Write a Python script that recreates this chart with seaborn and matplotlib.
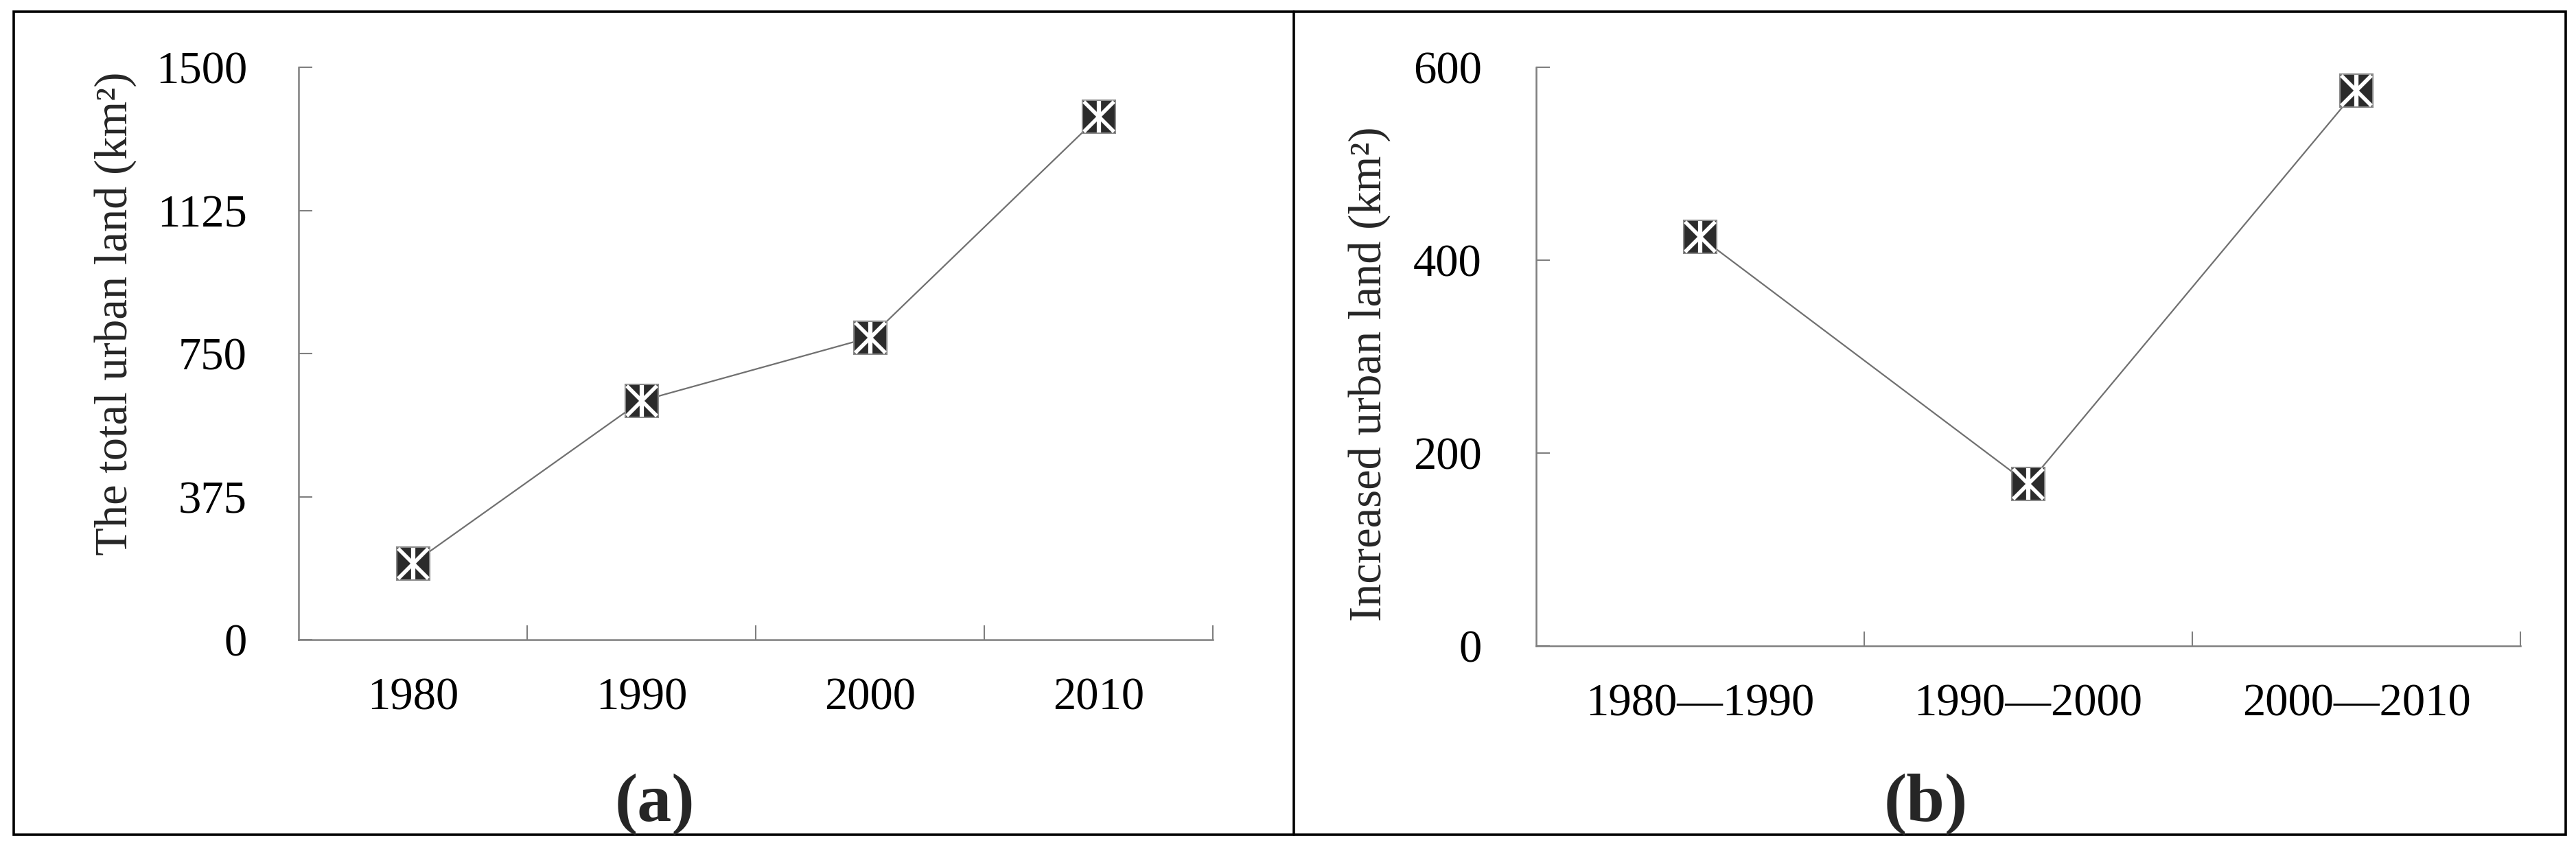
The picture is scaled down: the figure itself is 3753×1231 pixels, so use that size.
import matplotlib
matplotlib.use("Agg")
import matplotlib.pyplot as plt
import seaborn as sns
import pandas as pd
from matplotlib.patches import Rectangle
from matplotlib.lines import Line2D

# ---- data ----
years = ["1980", "1990", "2000", "2010"]
total_urban = [200, 626, 792, 1370]
periods = ["1980\u20141990", "1990\u20142000", "2000\u20142010"]
increased_urban = [424, 168, 576]
yticks_a = [0, 375, 750, 1125, 1500]
yticks_b = [0, 200, 400, 600]
ylabel_a = "The total urban land (km\u00b2)"
ylabel_b = "Increased urban land (km\u00b2)"
panel_labels = ["(a)", "(b)"]

sns.set_theme(style="ticks")
plt.rcParams["font.family"] = ["Liberation Serif", "DejaVu Serif"]

W, H = 3753, 1231
DPI = 100
fig = plt.figure(figsize=(W / DPI, H / DPI), dpi=DPI)

def fx(px):
    return px / W

def fy(py):
    return 1 - py / H

FS = 48
SPINE = "#7f7f7f"

def panel(rect, cats, vals, yticks, ylabel, label_xy, ypad):
    ax = fig.add_axes(rect)
    df = pd.DataFrame({"cat": cats, "val": vals})
    sns.lineplot(data=df, x="cat", y="val", ax=ax, sort=False,
                 color="#707070", linewidth=1.6,
                 marker="s", markersize=35, markerfacecolor="#2b2b2b",
                 markeredgecolor="#8a8a8a", markeredgewidth=1.5)
    # white asterisk overlay on the markers
    ax.plot(df["cat"], df["val"], linestyle="none", marker="x", markersize=31,
            markeredgecolor="white", markeredgewidth=4.0, zorder=5)
    ax.plot(df["cat"], df["val"], linestyle="none", marker="|", markersize=33,
            markeredgecolor="white", markeredgewidth=4.5, zorder=5)
    n = len(cats)
    ax.set_xlim(-0.5, n - 0.5)
    ax.set_ylim(yticks[0], yticks[-1])
    ax.set_yticks(yticks)
    ax.set_yticklabels([str(t) for t in yticks])
    ax.set_xticks(range(n))
    ax.set_xticklabels(cats)
    ax.set_xticks([i + 0.5 for i in range(n)], minor=True)
    ax.tick_params(axis="x", which="major", length=0, pad=39, labelsize=FS,
                   labelcolor="black")
    ax.tick_params(axis="x", which="minor", direction="in", length=15,
                   width=1.5, color=SPINE)
    ax.tick_params(axis="y", which="major", direction="in", length=14.5,
                   width=1.5, color=SPINE, pad=ypad, labelsize=FS,
                   labelcolor="black")
    for s in ["top", "right"]:
        ax.spines[s].set_visible(False)
    for s in ["left", "bottom"]:
        ax.spines[s].set_color(SPINE)
        ax.spines[s].set_linewidth(1.8)
    ax.set_xlabel("")
    ax.set_ylabel(ylabel, fontsize=FS, va="center")
    ax.yaxis.set_label_coords(*label_xy)
    ax.set_facecolor("white")
    return ax

# panel (a)
a_l, a_r, a_t, a_b = 435, 1767, 98, 932
panel([fx(a_l), fy(a_b), fx(a_r) - fx(a_l), fy(a_t) - fy(a_b)],
      years, total_urban, yticks_a, ylabel_a,
      ((168 - a_l) / (a_r - a_l), (a_b - 457) / (a_b - a_t)), 54)

# panel (b)
b_l, b_r, b_t, b_b = 2238, 3672, 98, 941
panel([fx(b_l), fy(b_b), fx(b_r) - fx(b_l), fy(b_t) - fy(b_b)],
      periods, increased_urban, yticks_b, ylabel_b,
      ((1995 - b_l) / (b_r - b_l), (b_b - 545) / (b_b - b_t)), 57)

# panel letters
fig.text(fx(954), fy(1172), panel_labels[0], fontsize=72, fontweight="bold",
         ha="center", va="center")
fig.text(fx(2806), fy(1172), panel_labels[1], fontsize=72, fontweight="bold",
         ha="center", va="center")

# outer frame and divider
fig.add_artist(Rectangle((fx(20), fy(1216)), fx(3738) - fx(20), fy(17) - fy(1216),
                         transform=fig.transFigure, fill=False,
                         edgecolor="black", linewidth=2.6))
fig.add_artist(Line2D([fx(1885), fx(1885)], [fy(1216), fy(17)],
                      transform=fig.transFigure, color="black", linewidth=2.6))

fig.savefig("out.png", dpi=DPI, facecolor="white")
